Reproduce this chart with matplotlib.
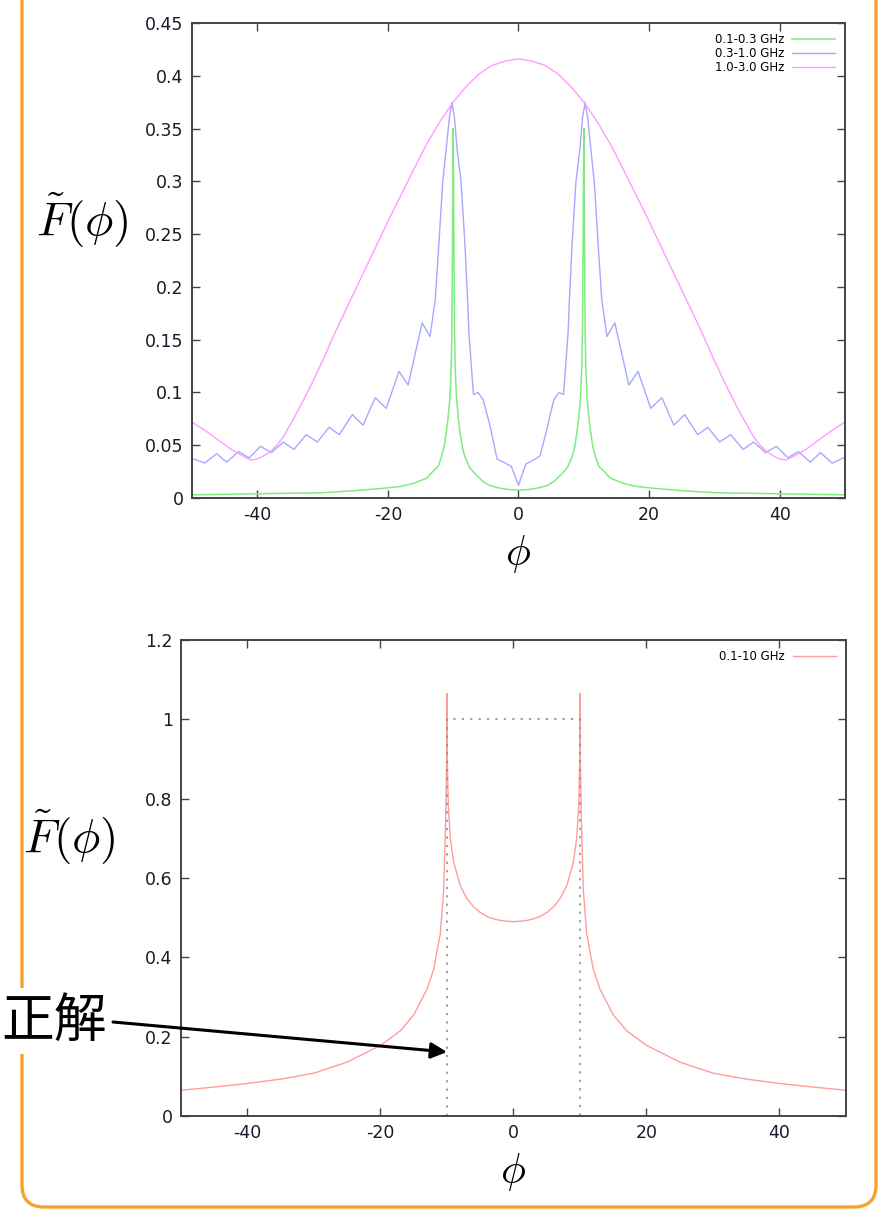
import matplotlib
matplotlib.use("Agg")
import matplotlib.pyplot as plt
from matplotlib.patches import FancyBboxPatch

plt.rcParams['font.family'] = ['DejaVu Sans']
plt.rcParams['mathtext.fontset'] = 'cm'

# ---- top panel data ----
green_label = "0.1-0.3 GHz"
green_x = [-50, -45, -40, -35, -30, -25, -21, -18, -16, -14, -13.3, -12.3, -11.8, -11.4,
           -11.1, -10.8, -10.5, -10.3, -10.2, -10.1, -10.0, -9.9, -9.8, -9.7, -9.5, -9.2,
           -8.9, -8.6, -8.2, -7.5, -6.8, -5.5, -4.5, -3, -1.5, 0,
           1.5, 3, 4.5, 5.5, 6.8, 7.5, 8.2, 8.6, 8.9, 9.2, 9.5, 9.7, 9.8, 9.9, 10.0,
           10.1, 10.2, 10.3, 10.5, 10.8, 11.1, 11.4, 11.8, 12.3, 13.3, 14, 16, 18, 21,
           25, 30, 35, 40, 45, 50]
green_y = [0.003, 0.0035, 0.004, 0.0045, 0.005, 0.007, 0.009, 0.011, 0.014, 0.019, 0.024,
           0.030, 0.039, 0.048, 0.060, 0.075, 0.095, 0.125, 0.16, 0.25, 0.35, 0.25, 0.16,
           0.125, 0.095, 0.075, 0.060, 0.048, 0.039, 0.029, 0.024, 0.016, 0.012, 0.0095,
           0.008, 0.0075,
           0.008, 0.0095, 0.012, 0.016, 0.024, 0.029, 0.039, 0.048, 0.060, 0.075, 0.095,
           0.125, 0.16, 0.25, 0.35, 0.25, 0.16, 0.125, 0.095, 0.075, 0.060, 0.048, 0.039,
           0.030, 0.024, 0.019, 0.014, 0.011, 0.009, 0.007, 0.005, 0.0045, 0.004, 0.0035,
           0.003]

blue_label = "0.3-1.0 GHz"
blue_x = [-50.0, -49.7, -48.05, -46.25, -44.7, -42.85, -41.25, -39.5, -37.85, -36.0, -34.4,
          -32.5, -30.8, -29.0, -27.45, -25.45, -23.8, -21.95, -20.25, -18.3, -16.9, -14.75,
          -13.55, -12.75, -12.2, -11.6, -11.0, -10.6, -10.2, -9.8, -9.4, -8.8, -8.2, -7.8,
          -7.6, -6.9, -6.2, -5.4, -4.3, -3.3, -2.3, -1.1, 0.0,
          1.1, 2.3, 3.3, 4.3, 5.4, 6.2, 6.9, 7.6, 7.8, 8.2, 8.8, 9.4, 9.8, 10.2, 10.6, 11.0,
          11.6, 12.2, 12.75, 13.55, 14.75, 16.9, 18.3, 20.25, 21.95, 23.8, 25.45, 27.45,
          29.0, 30.8, 32.5, 34.4, 36.0, 37.85, 39.5, 41.25, 42.85, 44.7, 46.25, 48.05,
          49.7, 50.0]
blue_y = [0.036, 0.037, 0.033, 0.042, 0.034, 0.044, 0.038, 0.049, 0.043, 0.053, 0.046,
          0.060, 0.053, 0.067, 0.060, 0.079, 0.069, 0.095, 0.085, 0.120, 0.107, 0.166,
          0.153, 0.188, 0.24, 0.30, 0.335, 0.36, 0.375, 0.36, 0.33, 0.30, 0.24, 0.188,
          0.157, 0.098, 0.100, 0.093, 0.067, 0.037, 0.034, 0.030, 0.012,
          0.032, 0.036, 0.040, 0.064, 0.093, 0.100, 0.098, 0.157, 0.188, 0.24, 0.30, 0.33,
          0.36, 0.375, 0.36, 0.335, 0.30, 0.24, 0.188, 0.153, 0.166, 0.107, 0.120, 0.085,
          0.095, 0.069, 0.079, 0.060, 0.067, 0.053, 0.060, 0.046, 0.053, 0.043, 0.049,
          0.038, 0.044, 0.034, 0.043, 0.033, 0.038, 0.037]

magenta_label = "1.0-3.0 GHz"
magenta_x = [-50, -48, -46, -44, -42, -41, -40, -39, -38, -37, -36, -34, -32, -30, -28,
             -26, -24, -22, -20, -18, -16, -14, -12, -10, -8, -6, -4, -2, 0,
             2, 4, 6, 8, 10, 12, 14, 16, 18, 20, 22, 24, 26, 28, 30, 32, 34, 36, 37, 38,
             39, 40, 41, 42, 44, 46, 48, 50]
magenta_y = [0.072, 0.064, 0.055, 0.046, 0.039, 0.036, 0.037, 0.040, 0.044, 0.050, 0.058,
             0.080, 0.104, 0.130, 0.158, 0.184, 0.210, 0.236, 0.262, 0.287, 0.312, 0.336,
             0.357, 0.375, 0.390, 0.402, 0.410, 0.414, 0.416,
             0.414, 0.410, 0.402, 0.390, 0.375, 0.357, 0.336, 0.312, 0.287, 0.262, 0.236,
             0.210, 0.184, 0.158, 0.130, 0.104, 0.080, 0.058, 0.050, 0.044, 0.040, 0.037,
             0.036, 0.039, 0.046, 0.055, 0.064, 0.072]

# ---- bottom panel data ----
red_label = "0.1-10 GHz"
red_x = [-50, -45, -40, -35, -30, -25, -20, -17, -15, -13, -12, -11, -10.5, -10.2, -10.05,
         -10.0, -9.95, -9.8, -9.5, -9, -8, -7, -6, -5, -4, -3, -2, -1, 0,
         1, 2, 3, 4, 5, 6, 7, 8, 9, 9.5, 9.8, 9.95, 10.0, 10.05, 10.2, 10.5, 11, 12, 13,
         15, 17, 20, 25, 30, 35, 40, 45, 50]
red_y = [0.065, 0.073, 0.082, 0.093, 0.108, 0.136, 0.178, 0.215, 0.255, 0.32, 0.37, 0.46,
         0.57, 0.75, 0.90, 1.065, 0.90, 0.78, 0.70, 0.64, 0.58, 0.548, 0.527, 0.513, 0.503,
         0.497, 0.493, 0.491, 0.490,
         0.491, 0.493, 0.497, 0.503, 0.513, 0.527, 0.548, 0.58, 0.64, 0.70, 0.78, 0.90,
         1.065, 0.90, 0.75, 0.57, 0.46, 0.37, 0.32, 0.255, 0.215, 0.178, 0.136, 0.108,
         0.093, 0.082, 0.073, 0.065]

# correct answer: top-hat between -10 and 10
exact_x = [-10, -10, 10, 10]
exact_y = [0, 1, 1, 0]

top_yticks = [0, 0.05, 0.1, 0.15, 0.2, 0.25, 0.3, 0.35, 0.4, 0.45]
top_yticklabels = ["0", "0.05", "0.1", "0.15", "0.2", "0.25", "0.3", "0.35", "0.4", "0.45"]
bot_yticks = [0, 0.2, 0.4, 0.6, 0.8, 1.0, 1.2]
bot_yticklabels = ["0", "0.2", "0.4", "0.6", "0.8", "1", "1.2"]
xticks = [-40, -20, 0, 20, 40]

W, H = 879, 1210
fig = plt.figure(figsize=(W / 100, H / 100), dpi=100)

# orange rounded frame behind everything
bg = fig.add_axes([0, 0, 1, 1], zorder=-5)
bg.set_xlim(0, W)
bg.set_ylim(H, 0)
bg.axis('off')
bg.add_patch(FancyBboxPatch((22, -80), 854, 1287, boxstyle="round,pad=0,rounding_size=22",
                            fc='none', ec='#f7a12f', lw=2.4))


def style(ax, yticks, yticklabels, ylim):
    ax.set_xlim(-50, 50)
    ax.set_ylim(*ylim)
    ax.set_xticks(xticks)
    ax.set_xticklabels([str(t) for t in xticks])
    ax.set_yticks(yticks)
    ax.set_yticklabels(yticklabels)
    ax.tick_params(direction='in', length=6, width=1, color='#444444', labelsize=12.5,
                   top=True, right=True, pad=6, labelcolor='#1a1a2a')
    for s in ax.spines.values():
        s.set_color('#444444')
        s.set_linewidth(1.4)
    ax.text(-0.168, 0.585, r'$\tilde{F}(\phi)$', transform=ax.transAxes,
            ha='center', va='center', fontsize=34)
    ax.text(0.5, -0.118, r'$\phi$', transform=ax.transAxes,
            ha='center', va='center', fontsize=30)
    ax.legend(loc='upper right', frameon=False, markerfirst=False, fontsize=8.5,
              handlelength=3.6, handletextpad=0.7, labelspacing=0.1, borderaxespad=0.45)


ax1 = fig.add_axes([192 / W, 1 - 498 / H, 653 / W, 475 / H])
ax1.plot(green_x, green_y, color='#80ea80', lw=1.1, label=green_label)
ax1.plot(blue_x, blue_y, color='#a8a8ff', lw=1.0, label=blue_label)
ax1.plot(magenta_x, magenta_y, color='#ff9cff', lw=1.0, label=magenta_label)
style(ax1, top_yticks, top_yticklabels, (0, 0.45))

ax2 = fig.add_axes([181 / W, 1 - 1116 / H, 665 / W, 476 / H])
ax2.plot(red_x, red_y, color='#ff9c9c', lw=1.0, label=red_label)
ax2.plot(exact_x, exact_y, color='#888888', lw=1.1, linestyle=(0, (1.5, 4)))
style(ax2, bot_yticks, bot_yticklabels, (0, 1.2))

# annotation overlay
ov = fig.add_axes([0, 0, 1, 1], zorder=10)
ov.set_xlim(0, W)
ov.set_ylim(H, 0)
ov.axis('off')
ov.patch.set_alpha(0)
ov.text(107, 1021, '正解', ha='right', va='center', fontsize=38,
        family=['Noto Sans CJK JP', 'DejaVu Sans'],
        bbox=dict(fc='white', ec='none', pad=4))
ov.annotate('', xy=(447, 1052), xytext=(113, 1022),
            arrowprops=dict(arrowstyle='-|>', color='black', lw=2.2, mutation_scale=24,
                            shrinkA=0, shrinkB=0))

fig.savefig('out.png', dpi=100)
